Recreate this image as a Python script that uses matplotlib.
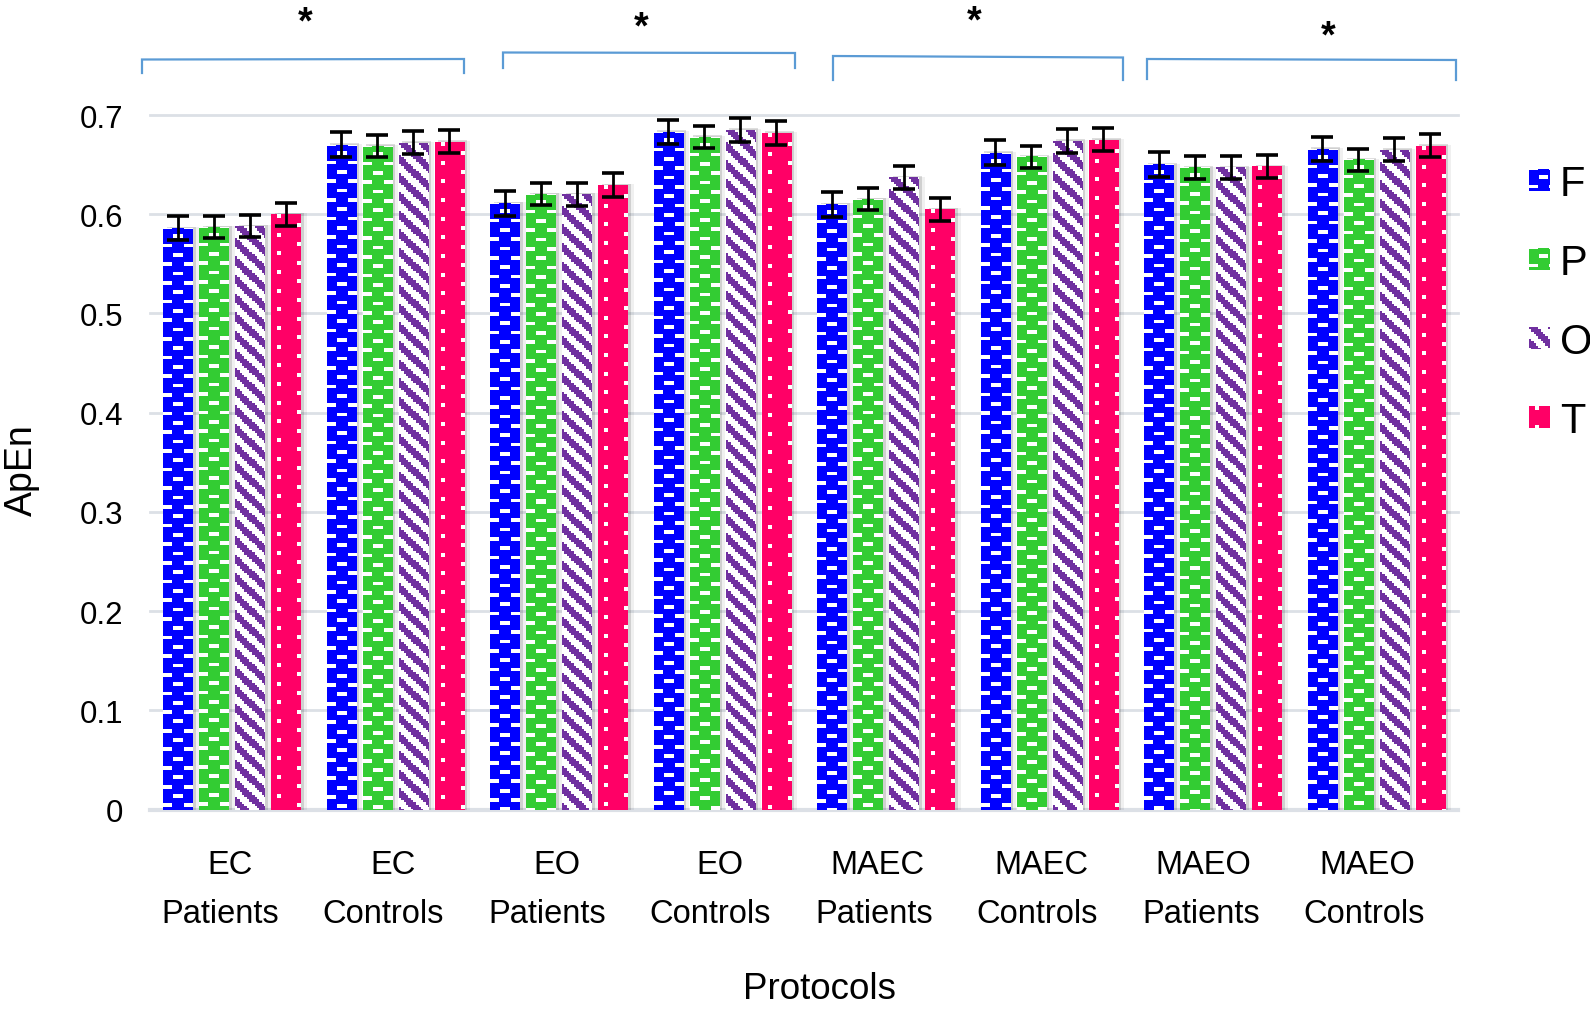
import numpy as np
import matplotlib
matplotlib.use("Agg")
import matplotlib.pyplot as plt
from matplotlib import transforms
from matplotlib.lines import Line2D

plt.rcParams['font.family'] = ['Liberation Sans', 'DejaVu Sans']

# ---------------- data ----------------
protocols = ["EC", "EC", "EO", "EO", "MAEC", "MAEC", "MAEO", "MAEO"]
cohorts = ["Patients", "Controls", "Patients", "Controls",
           "Patients", "Controls", "Patients", "Controls"]
series = ["F", "P", "O", "T"]

F_vals = [0.586, 0.670, 0.611, 0.683, 0.610, 0.662, 0.650, 0.666]
P_vals = [0.587, 0.669, 0.620, 0.678, 0.615, 0.658, 0.647, 0.655]
O_vals = [0.588, 0.672, 0.620, 0.685, 0.637, 0.674, 0.647, 0.665]
T_vals = [0.600, 0.673, 0.629, 0.682, 0.605, 0.675, 0.648, 0.669]

F_err = [0.0120, 0.0124, 0.0126, 0.0123, 0.0126, 0.0126, 0.0124, 0.0119]
P_err = [0.0110, 0.0110, 0.0110, 0.0113, 0.0110, 0.0110, 0.0113, 0.0111]
O_err = [0.0112, 0.0114, 0.0116, 0.0118, 0.0118, 0.0118, 0.0116, 0.0116]
T_err = [0.0114, 0.0114, 0.0121, 0.0118, 0.0118, 0.0116, 0.0118, 0.0118]

y_ticks = [0, 0.1, 0.2, 0.3, 0.4, 0.5, 0.6, 0.7]
y_ticklabels = ["0", "0.1", "0.2", "0.3", "0.4", "0.5", "0.6", "0.7"]

values = [F_vals, P_vals, O_vals, T_vals]
errors = [F_err, P_err, O_err, T_err]
colors = ["#0000FF", "#33CC33", "#7030A0", "#FF0066"]
kinds = ["brick", "brick", "stripe", "dots"]

# ---------------- figure ----------------
W, H, DPI = 1590, 1012, 100
fig = plt.figure(figsize=(W / DPI, H / DPI), dpi=DPI)
fig.patch.set_facecolor("white")

ax_l, ax_r, ax_t, ax_b = 150, 1458, 116, 810.7  # pixel frame (from top)
ax = fig.add_axes([ax_l / W, 1 - ax_b / H, (ax_r - ax_l) / W, (ax_b - ax_t) / H])
n = len(protocols)
ax.set_xlim(-0.5, n - 0.5)
ax.set_ylim(0, 0.7)
pxx = (ax_r - ax_l) / n          # pixels per x unit
pxy = (ax_b - ax_t) / 0.7        # pixels per y unit


def hex2rgb(h):
    h = h.lstrip("#")
    return np.array([int(h[i:i + 2], 16) / 255 for i in (0, 2, 4)])


def texture(kind, color, h, w):
    y = np.arange(h)[:, None] + 0.5
    x = np.arange(w)[None, :] + 0.5
    img = np.ones((h, w, 3))
    base = hex2rgb(color)
    if kind == "brick":
        row = np.floor((y + 3) / 9.33).astype(int)
        in_row = ((y + 3) % 9.33) < 3.8
        shift = (row % 2) * 10.0
        dash = ((x + shift) % 20.0) < 9.4
        white = in_row & dash
        img[:] = base
        img[np.broadcast_to(white, (h, w))] = 1.0
    elif kind == "stripe":
        xq = np.floor(x / 2.33).astype(int)
        yq = np.floor(y / 2.33).astype(int)
        col = ((xq - yq) % 8) < 4
        img[:] = 1.0
        img[np.broadcast_to(col, (h, w))] = base
    else:
        d1 = (((x - 6.5) % 37.33) < 4) & ((y % 18.67) < 4)
        d2 = (((x - 6.5 - 18.67) % 37.33) < 4) & (((y - 9.33) % 18.67) < 4)
        img[:] = base
        img[np.broadcast_to(d1 | d2, (h, w))] = 1.0
    return img


# gridlines
grid_c = "#DCE0E6"
for t in y_ticks:
    ax.axhline(t, color=grid_c, lw=2.0 if t > 0 else 3.0, zorder=0.5, clip_on=False)
for s in ax.spines.values():
    s.set_visible(False)
ax.set_yticks(y_ticks)
ax.set_yticklabels(y_ticklabels, fontsize=22.5)
ax.tick_params(axis="y", length=0, pad=19)
ax.set_xticks(range(n))
ax.set_xticklabels([""] * n)
ax.tick_params(axis="x", length=0)

bw = 29.4 / pxx
pitch = 36.0 / pxx
xc = np.arange(n)
for i, (vals, errs, c, k) in enumerate(zip(values, errors, colors, kinds)):
    xs = xc + (i - 1.5) * pitch
    # soft shadow
    ax.bar(xs + 3.5 / pxx, np.array(vals) + 1.5 / pxy, bw, color="black", alpha=0.13,
           zorder=1.2, linewidth=0)
    ax.bar(xs + 6.5 / pxx, np.array(vals) + 1.0 / pxy, bw, color="black", alpha=0.06,
           zorder=1.1, linewidth=0)
    bars = ax.bar(xs, vals, bw, color=c, linewidth=0, zorder=2, label=series[i])
    for b in bars:
        x0, v = b.get_x(), b.get_height()
        wpx = max(1, int(round(b.get_width() * pxx)))
        hpx = max(1, int(round(v * pxy)))
        tex = texture(k, c, hpx, wpx)
        ax.imshow(tex, extent=(x0, x0 + b.get_width(), 0, v), origin="upper",
                  interpolation="nearest", aspect="auto", zorder=2.5)
    ax.errorbar(xs, vals, yerr=errs, fmt="none", ecolor="black", elinewidth=2.0,
                capsize=8, capthick=2.6, zorder=4)

ax.set_xlim(-0.5, n - 0.5)
ax.set_ylim(0, 0.7)

# category labels (two lines)
tr = transforms.blended_transform_factory(ax.transData, fig.transFigure)
line1_dx = [-1.5, -2, -2, -2, -8, -8, -9, -9]
for i in range(n):
    ax.text(i + line1_dx[i] / pxx, 1 - 874 / H, protocols[i], transform=tr,
            ha="center", va="baseline", fontsize=23.5)
    ax.text(i - 12 / pxx, 1 - 923 / H, cohorts[i], transform=tr,
            ha="center", va="baseline", fontsize=23.5)

# axis titles
fig.text(819 / W, 1 - 999 / H, "Protocols", ha="center", va="baseline", fontsize=26.5)
fig.text(22 / W, 1 - 470 / H, "ApEn", ha="center", va="center", rotation=90, fontsize=27)

# legend (manual, textured swatches)
leg_y = [180.7, 260.0, 339.0, 418.0]
for i in range(4):
    tex = texture(kinds[i], colors[i], 22, 21)
    fig.figimage(tex, xo=1529, yo=int(round(H - leg_y[i] - 11)), origin="upper", zorder=5)
    fig.text(1560 / W, 1 - (leg_y[i] + 15) / H, series[i], ha="left", va="baseline",
             fontsize=30)

# significance brackets
pix = transforms.Affine2D().scale(1 / W, -1 / H).translate(0, 1) + fig.transFigure
brackets = [
    (142, 464, 60.5, 60.0, 74, 74, 305, 18),
    (503, 795, 53.5, 54.0, 69, 69, 641, 23),
    (833, 1123, 57.0, 58.5, 81, 81, 974, 17),
    (1147, 1456, 60.0, 61.0, 80, 81, 1328, 32),
]
for x0, x1, yl, yr, ll, lr, sx, sy in brackets:
    fig.add_artist(Line2D([x0, x0, x1, x1], [ll, yl, yr, lr], transform=pix,
                          color="#5B9BD5", lw=1.6, solid_joinstyle="miter"))
    fig.text(sx / W, 1 - (sy + 15) / H, "*", ha="center", va="baseline", fontsize=27,
             fontweight="bold")

fig.savefig("out.png", dpi=DPI, facecolor="white")
